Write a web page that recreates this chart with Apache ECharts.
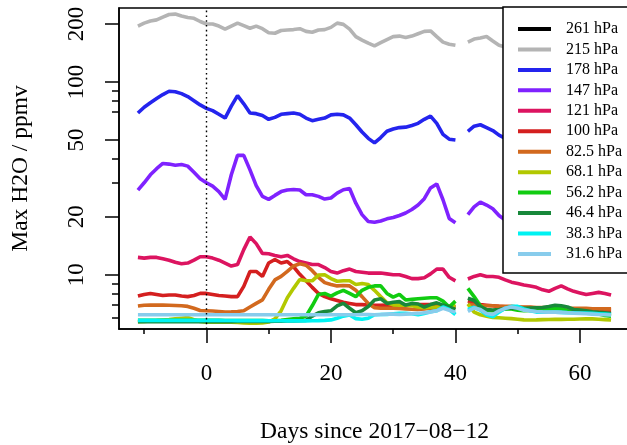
<!DOCTYPE html>
<html>
<head>
<meta charset="utf-8">
<title>Max H2O by pressure level</title>
<script src="https://cdn.jsdelivr.net/npm/echarts@6/dist/echarts.min.js"></script>
<style>
  html, body { margin: 0; padding: 0; background: #fff; }
  #chart { width: 627px; height: 445px; }
</style>
</head>
<body>
<div id="chart"></div>
<script>
// Days relative to 2017-08-12 (no retrieval on day 41)
const days = [-11,-10,-9,-8,-7,-6,-5,-4,-3,-2,-1,0,
  1,2,3,4,5,6,7,8,9,10,
  11,12,13,14,15,16,17,18,19,20,
  21,22,23,24,25,26,27,28,29,30,
  31,32,33,34,35,36,37,38,39,40,
  41,
  42,43,44,45,46,47,48,49,50,51,
  52,53,54,55,56,57,58,59,60,61,62,63,64,65];

// Pressure levels shown in the legend
const levels = ['261 hPa','215 hPa','178 hPa','147 hPa','121 hPa','100 hPa',
  '82.5 hPa','68.1 hPa','56.2 hPa','46.4 hPa','38.3 hPa','31.6 hPa'];

// Daily maximum H2O (ppmv) per level
const h261 = [];
const h215 = [195,202,207,210,217,224,225,220,216,214,206,200,
  200,195,188,195,202,196,190,195,189,180,
  179,185,186,187,189,183,181,186,187,192,
  202,199,188,172,165,159,154,160,166,172,
  173,170,173,178,183,184,172,161,157,155,
  null,
  161,167,169,172,163,155,152,150,148,151,
  153,150,147,149,152,150,148,146,149,151,148,147,150,149];
const h178 = [69,74,78,82,86,89.5,89,87,84,80,76,73,
  71,68,65,75,85,77,69,68.5,67,64,
  65.5,68,68.5,69,68,65,63,64,65,67.5,
  68,67.5,65,60,55,51,48.3,51.5,55.5,57,
  58,58.3,59.5,61,64,66.5,61,53.5,50.5,50,
  null,
  55.5,59,60,58,56,53,51,50,52,54,
  53,51,50,52,55,54,52,50,51,53,52,50,49,51];
const h147 = [27.5,30,33,35.5,37.8,37.5,37,37.3,36.6,34,31.5,30,
  28.8,27,24.6,33,41.6,41.6,35,29,25.5,24.6,
  25.8,27,27.5,27.7,27.5,26,26,25.5,24.7,25,
  26.5,27.6,28,23.5,20.5,18.9,18.7,19,19.5,19.8,
  20.3,20.9,21.8,23,24.8,28.2,29.6,24.5,19.6,18.6,
  null,
  20.5,22.5,23.8,23,22,20.3,19.2,19,19.5,20,
  19.4,18.8,19.5,20.5,20,19.2,18.7,19,19.8,19.3,18.8,18.5,19,18.6];
const h121 = [12.3,12.2,12.3,12.3,12.1,11.9,11.6,11.4,11.5,11.9,12.4,12.4,
  12.2,11.9,11.5,11.1,11.3,13.5,15.7,14.5,12.9,12.85,
  12.6,12.4,12.6,12.1,11.7,11.5,11.3,11.3,10.9,10.4,
  10.2,10.5,10.7,10.4,10.3,10.2,10.2,10.2,10.1,10.0,
  10.0,9.8,9.55,9.55,9.65,10.1,10.7,10.7,9.7,9.3,
  null,
  9.5,9.8,10.0,9.8,9.8,9.7,9.4,9.15,9.0,8.85,
  8.75,8.6,8.35,8.2,8.5,8.75,8.45,8.2,8.05,7.9,8.0,8.1,8.0,7.85];
const h100 = [7.75,7.9,8.0,7.9,7.8,7.85,7.85,7.75,7.7,7.8,8.0,8.0,
  7.9,7.8,7.75,7.7,7.7,8.7,10.4,10.4,9.8,11.5,
  12.0,11.5,11.7,11.0,10.05,9.3,8.6,8.0,7.7,7.5,
  7.35,7.2,7.1,7.0,7.0,6.96,6.95,6.95,6.96,6.96,
  6.95,6.95,7.0,7.0,7.0,7.0,6.95,6.9,6.85,6.8,
  null,
  7.3,7.15,7.0,6.95,6.9,6.85,6.82,6.8,6.78,6.75,
  6.75,6.72,6.7,6.7,6.68,6.68,6.65,6.65,6.62,6.6,6.6,6.58,6.56,6.55];
const h82 = [6.88,6.95,6.96,6.96,6.96,6.95,6.93,6.9,6.85,6.7,6.52,6.5,
  6.48,6.45,6.4,6.42,6.45,6.5,6.8,7.1,7.4,8.4,
  9.4,9.8,10.4,11.1,11.4,11.2,10.5,9.7,9.1,8.9,
  8.75,8.8,8.75,8.3,7.7,7.1,6.75,6.7,6.7,6.7,
  6.68,6.65,6.62,6.6,6.65,6.7,6.75,6.8,6.8,6.8,
  null,
  7.05,6.95,6.9,6.9,6.9,6.85,6.85,6.85,6.8,6.8,
  6.8,6.75,6.75,6.75,6.75,6.7,6.7,6.7,6.7,6.7,6.65,6.65,6.65,6.65];
const h68 = [5.7,5.72,5.75,5.78,5.82,5.85,5.9,5.95,6.0,5.85,5.72,5.67,
  5.67,5.67,5.68,5.67,5.65,5.63,5.6,5.6,5.62,5.68,
  5.9,6.5,7.6,8.5,9.45,9.3,9.3,9.96,10.0,9.55,
  9.25,9.3,9.3,8.9,9.0,8.9,8.3,7.7,7.15,6.98,
  6.96,6.96,6.9,6.8,6.75,6.78,6.8,6.8,6.85,6.96,
  null,
  7.05,6.4,6.2,6.1,6.0,5.98,5.95,5.92,5.88,5.83,
  5.82,5.83,5.85,5.86,5.87,5.87,5.88,5.88,5.89,5.9,5.9,5.88,5.85,5.82];
const h56 = [5.8,5.8,5.8,5.8,5.8,5.8,5.8,5.8,5.8,5.8,5.8,5.8,
  5.8,5.8,5.79,5.79,5.78,5.78,5.78,5.78,5.78,5.77,
  5.77,5.8,5.85,5.9,5.95,6.1,6.9,7.9,8.0,7.75,
  8.05,8.3,8.0,7.7,8.3,8.6,8.75,8.75,8.0,7.65,
  7.9,7.4,7.45,7.5,7.55,7.6,7.6,7.3,6.8,7.3,
  null,
  8.5,7.7,6.9,6.5,6.5,6.55,6.65,6.65,6.55,6.5,
  6.52,6.55,6.58,6.62,6.68,6.65,6.5,6.4,6.38,6.35,6.3,6.25,6.15,6.1];
const h46 = [5.7,5.7,5.7,5.7,5.7,5.7,5.7,5.7,5.7,5.7,5.7,5.7,
  5.7,5.7,5.71,5.71,5.72,5.72,5.72,5.72,5.73,5.73,
  5.74,5.74,5.75,5.76,5.78,5.8,6.1,6.35,6.45,6.5,
  6.9,7.1,6.7,6.35,6.5,6.85,7.4,7.5,7.1,7.2,
  7.25,6.96,7.1,7.05,6.8,7.0,7.15,6.96,6.8,6.6,
  null,
  7.55,7.35,6.8,6.6,6.56,6.6,6.68,6.7,6.7,6.7,
  6.72,6.74,6.76,6.85,6.95,6.9,6.8,6.6,6.55,6.5,6.42,6.38,6.35,6.3];
const h38 = [5.8,5.8,5.8,5.8,5.8,5.8,5.8,5.8,5.8,5.8,5.8,5.8,
  5.8,5.8,5.79,5.79,5.78,5.78,5.78,5.78,5.78,5.77,
  5.77,5.77,5.76,5.76,5.76,5.76,5.77,5.78,5.8,5.83,
  5.95,6.1,6.18,5.92,5.87,5.95,6.2,6.22,6.22,6.28,
  6.3,6.3,6.28,6.2,6.3,6.42,6.5,6.8,6.6,6.22,
  null,
  6.6,6.78,6.55,6.2,6.05,6.4,6.7,6.85,6.85,6.65,
  6.5,6.4,6.4,6.4,6.4,6.38,6.36,6.35,6.33,6.32,6.3,6.28,6.25,6.22];
const h31 = [6.2,6.2,6.2,6.2,6.2,6.2,6.2,6.2,6.2,6.2,6.2,6.2,
  6.2,6.2,6.2,6.2,6.2,6.2,6.2,6.2,6.2,6.2,
  6.2,6.2,6.2,6.2,6.2,6.2,6.2,6.2,6.2,6.2,
  6.2,6.2,6.2,6.2,6.22,6.22,6.2,6.22,6.25,6.25,
  6.22,6.25,6.28,6.3,6.35,6.4,6.5,6.7,6.55,6.4,
  null,
  6.45,6.72,6.6,6.3,6.22,6.5,6.7,6.8,6.7,6.55,
  6.5,6.45,6.42,6.4,6.4,6.38,6.35,6.32,6.3,6.28,6.25,6.22,6.2,6.18];

// Axis ticks
const xMajor = [0, 20, 40, 60];
const xMinor = [-10, 10, 30, 50];
const yMajor = [10, 20, 50, 100, 200];
const yMinor = [6, 7, 8, 9, 30, 40, 70, 80, 90];

const values = [h261, h215, h178, h147, h121, h100, h82, h68, h56, h46, h38, h31];
const colors = ['#000000', '#b4b4b4', '#2424ee', '#7f22ff', '#dc1460', '#d41f1f',
  '#d2691e', '#b2c800', '#11cc11', '#18883a', '#00f2f2', '#88ccec'];

const FONT = "'Liberation Serif', 'DejaVu Serif', serif";
const X_MIN = -14.04, X_MAX = 68.04, Y_MIN = 5.23, Y_MAX = 242;

const series = levels.map((name, k) => {
  const s = {
    type: 'line',
    name: name,
    data: values[k].map((v, i) => [days[i], v == null ? '-' : v]),
    showSymbol: false,
    symbol: 'none',
    connectNulls: false,
    lineStyle: { width: 3.6, color: colors[k] },
    itemStyle: { color: colors[k] },
    emphasis: { disabled: true },
    z: 2
  };
  if (k === 1) {
    // reference day marker
    s.markLine = {
      silent: true,
      symbol: ['none', 'none'],
      label: { show: false },
      lineStyle: { color: '#000', type: [1.6, 3.2], width: 1.4 },
      data: [{ xAxis: 0 }]
    };
  }
  return s;
});

const chart = echarts.init(document.getElementById('chart'), null, { renderer: 'canvas' });
chart.setOption({
  animation: false,
  backgroundColor: '#fff',
  grid: {
    left: 119, top: 8, width: 511, height: 321,
    show: true, borderColor: '#000', borderWidth: 1.5,
    containLabel: false, outerBoundsMode: 'none'
  },
  legend: {
    orient: 'vertical',
    left: 503, top: 7,
    icon: 'rect', itemWidth: 33, itemHeight: 4, itemGap: 4.45,
    padding: [14, 30, 11, 15],
    backgroundColor: '#fff', borderColor: '#000', borderWidth: 1.5,
    selectedMode: false,
    textStyle: { fontFamily: FONT, fontSize: 16, color: '#000', lineHeight: 16, padding: [0, 0, 0, 10] },
    data: levels,
    z: 10
  },
  xAxis: [{
    type: 'value', min: X_MIN, max: X_MAX, position: 'bottom',
    axisLine: { show: true, onZero: false, lineStyle: { color: '#000', width: 1.5 } },
    axisTick: { show: true, length: 14, customValues: xMajor, lineStyle: { color: '#000', width: 1.5 } },
    axisLabel: { customValues: xMajor, margin: 33, fontFamily: FONT, fontSize: 23, color: '#000' },
    splitLine: { show: false },
    name: 'Days since 2017\u221208\u221212', nameLocation: 'middle', nameGap: 91,
    nameTextStyle: { fontFamily: FONT, fontSize: 23.5, color: '#000' }
  }, {
    type: 'value', min: X_MIN, max: X_MAX, position: 'bottom',
    axisLine: { show: false, onZero: false },
    axisTick: { show: true, length: 5, customValues: xMinor, lineStyle: { color: '#000', width: 1.5 } },
    axisLabel: { show: false },
    splitLine: { show: false }
  }],
  yAxis: [{
    type: 'log', logBase: 10, min: Y_MIN, max: Y_MAX, position: 'left',
    axisLine: { show: true, onZero: false, lineStyle: { color: '#000', width: 1.5 } },
    axisTick: { show: true, length: 14, customValues: yMajor, lineStyle: { color: '#000', width: 1.5 } },
    axisLabel: {
      customValues: yMajor, rotate: 90, margin: 31,
      fontFamily: FONT, fontSize: 23, color: '#000',
      formatter: v => String(Math.round(v))
    },
    splitLine: { show: false },
    minorTick: { show: false },
    name: 'Max H2O / ppmv', nameLocation: 'middle', nameGap: 86,
    nameTextStyle: { fontFamily: FONT, fontSize: 23.5, color: '#000' }
  }, {
    type: 'log', logBase: 10, min: Y_MIN, max: Y_MAX, position: 'left',
    axisLine: { show: false, onZero: false },
    axisTick: { show: true, length: 7, customValues: yMinor, lineStyle: { color: '#000', width: 1.5 } },
    axisLabel: { show: false },
    splitLine: { show: false }
  }],
  series: series
});
</script>
</body>
</html>
